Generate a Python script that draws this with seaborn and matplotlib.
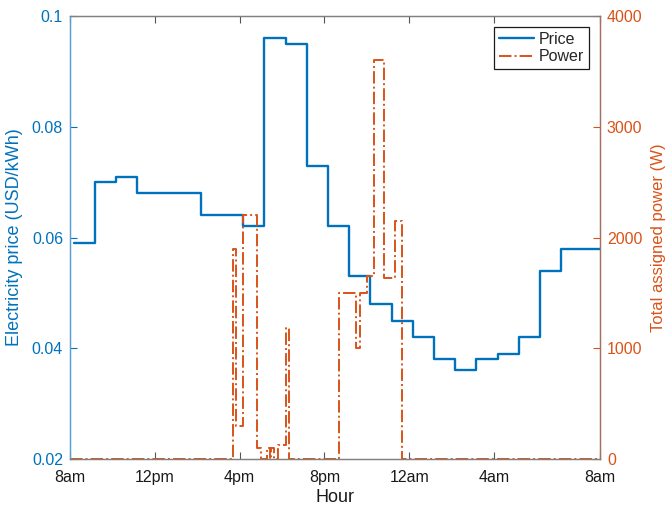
import numpy as np
import pandas as pd
import matplotlib
matplotlib.use("Agg")
import matplotlib.pyplot as plt
import seaborn as sns

# ---- data (x in 10-minute slots from 8am) ----
price_hours = list(range(25))
price_values = [0.059, 0.070, 0.071, 0.068, 0.068, 0.068, 0.064, 0.064, 0.062,
                0.096, 0.095, 0.073, 0.062, 0.053, 0.048, 0.045, 0.042, 0.038,
                0.036, 0.038, 0.039, 0.042, 0.054, 0.058, 0.058]

power_slots = [0, 46, 47, 49, 53, 54, 55.75, 56.5, 57, 57.6, 59, 61, 62,
               76, 81, 82, 84, 86, 89, 92, 94, 150]
power_values = [0, 1900, 300, 2200, 100, 0, 100, 0, 100, 0, 130, 1180, 0,
                1500, 1000, 1500, 1650, 3600, 1630, 2150, 0, 0]

x_tick_pos = [0, 24, 48, 72, 96, 120, 150]
x_tick_labels = ['8am', '12pm', '4pm', '8pm', '12am', '4am', '8am']
left_ticks = [0.02, 0.04, 0.06, 0.08, 0.1]
left_tick_labels = ['0.02', '0.04', '0.06', '0.08', '0.1']
right_ticks = [0, 1000, 2000, 3000, 4000]
right_tick_labels = ['0', '1000', '2000', '3000', '4000']

BLUE = '#0072BD'
ORANGE = '#D95319'

sns.set_theme(style='white')
plt.rcParams['font.family'] = ['Liberation Sans', 'DejaVu Sans']

price_x = [1 + 6 * h for h in price_hours] + [150]
price_y = price_values + [price_values[-1]]
price_df = pd.DataFrame({'slot': price_x, 'price': price_y})
power_df = pd.DataFrame({'slot': power_slots, 'power': power_values})

fig = plt.figure(figsize=(6.65, 5.09), dpi=100)
ax = fig.add_axes([70 / 665, 1 - 459 / 509, 530 / 665, 443 / 509])
ax2 = ax.twinx()

sns.lineplot(data=price_df, x='slot', y='price', ax=ax, drawstyle='steps-post',
             color=BLUE, linewidth=1.7, legend=False)
sns.lineplot(data=power_df, x='slot', y='power', ax=ax2, drawstyle='steps-post',
             color=ORANGE, linewidth=1.4, linestyle='-.', legend=False)

ax.set_xlim(0, 150)
ax.set_ylim(0.02, 0.1)
ax2.set_ylim(0, 4000)

ax.set_xticks(x_tick_pos)
ax.set_xticklabels(x_tick_labels, fontsize=11.5, color='#1a1a1a')
ax.set_yticks(left_ticks)
ax.set_yticklabels(left_tick_labels, fontsize=11.5, color=BLUE)
ax2.set_yticks(right_ticks)
ax2.set_yticklabels(right_tick_labels, fontsize=11.5, color=ORANGE)

ax.tick_params(axis='x', direction='in', top=True, bottom=True, length=5,
               width=0.8, color='#555555', pad=8)
ax.tick_params(axis='y', direction='in', left=True, right=False, length=5,
               width=0.8, color=BLUE, pad=5)
ax2.tick_params(axis='y', direction='in', right=True, left=False, length=5,
                width=0.8, color=ORANGE, pad=5)
ax2.tick_params(axis='x', top=False, bottom=False)

ax.set_xlabel('Hour', fontsize=13, color='#1a1a1a', labelpad=3)
ax.set_ylabel('Electricity price (USD/kWh)', fontsize=13, color=BLUE, labelpad=6)
ax2.set_ylabel('Total assigned power (W)', fontsize=12, color=ORANGE, labelpad=6)

for a in (ax, ax2):
    for s in a.spines.values():
        s.set_linewidth(0.9)
    a.spines['top'].set_color('#808080')
    a.spines['bottom'].set_color('#808080')
    a.spines['left'].set_color('#5a9fd4')
    a.spines['right'].set_color('#a5705f')

handles = ax.get_lines()[:1] + ax2.get_lines()[:1]
leg = ax2.legend(handles, ['Price', 'Power'], loc='upper right',
                 bbox_to_anchor=(589 / 665, 1 - 27 / 509),
                 bbox_transform=fig.transFigure, borderaxespad=0,
                 fontsize=11.5, frameon=True, fancybox=False, framealpha=1,
                 edgecolor='#1a1a1a', handlelength=2.2, handletextpad=0.3,
                 labelspacing=0.15, borderpad=0.3)
leg.get_frame().set_linewidth(0.9)

fig.savefig('out.png', dpi=100)
